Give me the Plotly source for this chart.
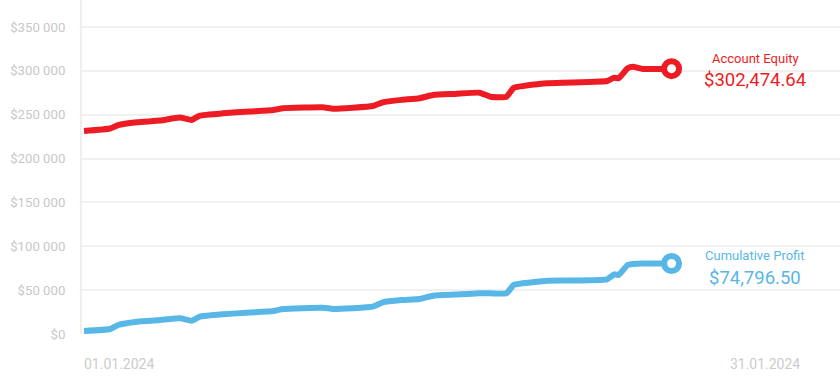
import plotly.graph_objects as go

dates = [
    "2024-01-01 00:00", "2024-01-02 05:00", "2024-01-02 14:00", "2024-01-03 11:00",
    "2024-01-04 13:00", "2024-01-05 11:00", "2024-01-06 00:00", "2024-01-06 09:00",
    "2024-01-07 11:00", "2024-01-08 17:00", "2024-01-09 19:00", "2024-01-10 06:00",
    "2024-01-12 02:00", "2024-01-12 14:00", "2024-01-14 10:00", "2024-01-14 21:00",
    "2024-01-15 18:00", "2024-01-16 14:00", "2024-01-17 05:00", "2024-01-18 06:00",
    "2024-01-19 09:00", "2024-01-19 21:00", "2024-01-20 15:00", "2024-01-20 23:00",
    "2024-01-21 23:00", "2024-01-22 12:00", "2024-01-25 07:00", "2024-01-25 15:00",
    "2024-01-25 20:00", "2024-01-26 06:00", "2024-01-26 12:00", "2024-01-26 23:00",
    "2024-01-28 07:00",
]

equity = [
    231420, 234270, 238000, 241300, 243400, 246800, 244000, 248900,
    251600, 253700, 255400, 257300, 258400, 256800, 259900, 264100,
    266900, 268700, 272500, 273700, 275100, 270500, 270500, 280500,
    284500, 285800, 288400, 292200, 291500, 302900, 304700, 302100,
    302474.64,
]

profit = [
    3420, 5700, 10260, 14020, 15960, 17900, 15160, 19720,
    22460, 24510, 26220, 28500, 29980, 28500, 31120, 36140,
    38700, 39900, 43660, 45000, 46400, 46400, 46400, 56000,
    59300, 60760, 62360, 68000, 67300, 78660, 79800, 80300,
    80400,
]

y_tickvals = [0, 50000, 100000, 150000, 200000, 250000, 300000, 350000]
y_ticktext = ["$0", "$50 000", "$100 000", "$150 000", "$200 000",
              "$250 000", "$300 000", "$350 000"]
x_tickvals = ["2024-01-01", "2024-01-31"]
x_ticktext = ["01.01.2024", "31.01.2024"]

equity_label = "Account Equity"
equity_value_text = "$302,474.64"
profit_label = "Cumulative Profit"
profit_value_text = "$74,796.50"

RED = "#ED1C24"
BLUE = "#58B7E7"
FONT = "Roboto"

fig = go.Figure()
for vals, col in [(equity, RED), (profit, BLUE)]:
    fig.add_trace(go.Scatter(
        x=dates, y=vals, mode="lines",
        line=dict(color=col, width=6, shape="spline", smoothing=0.4),
        hoverinfo="skip", showlegend=False,
    ))
    fig.add_trace(go.Scatter(
        x=[dates[-1]], y=[vals[-1]], mode="markers",
        marker=dict(size=15, color="white", line=dict(color=col, width=6)),
        hoverinfo="skip", showlegend=False,
    ))

def label(x, y, text, size, col):
    fig.add_annotation(x=x, y=y, xref="paper", yref="paper", text=text,
                       xanchor="center", yanchor="middle", showarrow=False,
                       font=dict(family=FONT, size=size, color=col))

label(0.888, 0.826, equity_label, 13, RED)
label(0.888, 0.759, equity_value_text, 18.5, RED)
label(0.888, 0.235, profit_label, 13, BLUE)
label(0.888, 0.169, profit_value_text, 18.5, BLUE)

fig.update_layout(
    width=840, height=383,
    margin=dict(l=82, r=0, t=0, b=49),
    paper_bgcolor="white", plot_bgcolor="white",
    font=dict(family=FONT),
)
fig.update_xaxes(
    type="date",
    range=["2023-12-31 21:46", "2024-02-05 02:45"],
    tickvals=x_tickvals, ticktext=x_ticktext,
    ticklabelposition="outside right",
    ticklabelstandoff=20,
    tickfont=dict(family=FONT, size=14, color="#CCCCCC"),
    showgrid=False, zeroline=False, showline=False, ticks="",
)
fig.update_yaxes(
    range=[0, 380750],
    tickvals=y_tickvals, ticktext=y_ticktext,
    tickfont=dict(family=FONT, size=13.2, color="#C8C8C8"),
    showgrid=True, gridcolor="#F0F0F0", gridwidth=2,
    zeroline=False, showline=True, linecolor="#EEEEEE", linewidth=2,
    ticks="", ticklabelstandoff=12,
)

fig.write_html("out.html")
